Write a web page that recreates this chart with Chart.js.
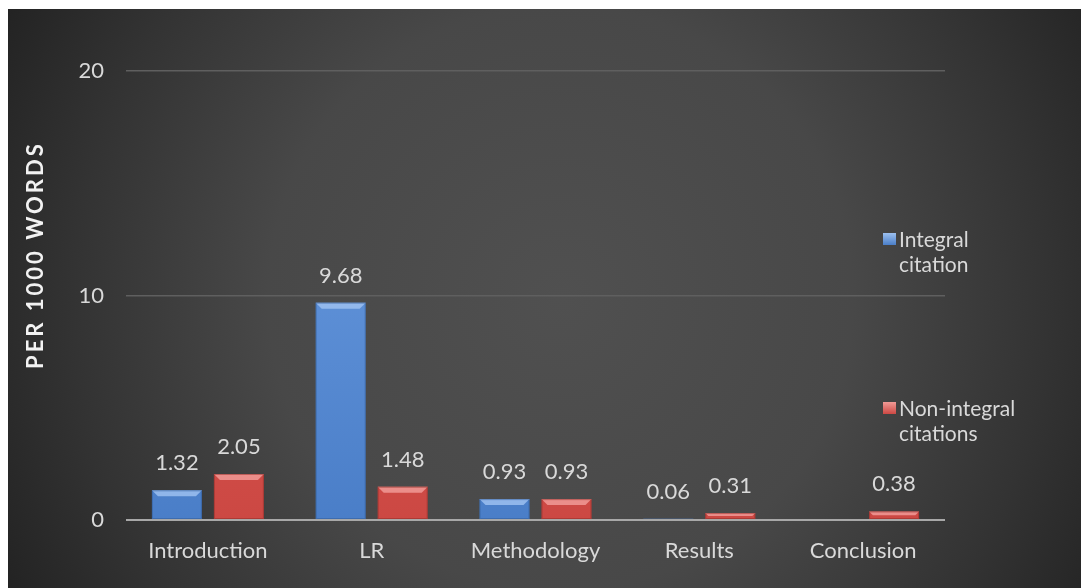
<!DOCTYPE html>
<html>
<head>
<meta charset="utf-8">
<script src="https://cdn.jsdelivr.net/npm/chart.js@4.4.1/dist/chart.umd.min.js"></script>
<style>
  html, body { margin: 0; padding: 0; background: #ffffff; }
  #wrap { position: absolute; left: 8px; top: 9px; width: 1073px; height: 579px; }
  canvas { display: block; }
</style>
</head>
<body>
<div id="wrap"><canvas id="c" width="1073" height="579"></canvas></div>
<script>
const categories = ["Introduction", "LR", "Methodology", "Results", "Conclusion"];
const integralValues = [1.32, 9.68, 0.93, 0.06, 0];
const nonIntegralValues = [2.05, 1.48, 0.93, 0.31, 0.38];
const seriesNames = [["Integral", "citation"], ["Non-integral", "citations"]];
const yTicks = [0, 10, 20];
const yTitle = "PER 1000 WORDS";

const FONT = "Lato, 'Open Sans', sans-serif";
const TEXT = "#d9d9d9";

const palette = [
  { top: "#6fa0e4", bottom: "#4a7ec8", bevel: "#9cc0f0", edge: "#2f5a96" },
  { top: "#e2615d", bottom: "#cc4843", bevel: "#f09a96", edge: "#8e2b28" }
];

function barGradient(ctx, idx) {
  const chart = ctx.chart;
  const area = chart.chartArea;
  if (!area) return palette[idx].bottom;
  const g = chart.ctx.createLinearGradient(0, area.top, 0, area.bottom);
  g.addColorStop(0, palette[idx].top);
  g.addColorStop(1, palette[idx].bottom);
  return g;
}

const bgPlugin = {
  id: "bg",
  beforeDraw(chart) {
    const { ctx, width, height } = chart;
    const cx = width * 0.515, cy = height * 0.5;
    const g = ctx.createRadialGradient(cx, cy, 0, cx, cy, 650);
    g.addColorStop(0, "#505050");
    g.addColorStop(0.45, "#484848");
    g.addColorStop(0.75, "#333333");
    g.addColorStop(1, "#202020");
    ctx.save();
    ctx.fillStyle = g;
    ctx.fillRect(0, 0, width, height);
    ctx.restore();
  }
};

const bevelPlugin = {
  id: "bevel",
  afterDatasetsDraw(chart) {
    const ctx = chart.ctx;
    chart.data.datasets.forEach((ds, di) => {
      const meta = chart.getDatasetMeta(di);
      meta.data.forEach((bar) => {
        const h = bar.base - bar.y;
        if (h < 4) return;
        const w = bar.width;
        const l = bar.x - w / 2, r = bar.x + w / 2;
        const b = Math.min(6, h / 2, w / 2);
        ctx.save();
        ctx.fillStyle = palette[di].bevel;
        ctx.globalAlpha = 0.85;
        ctx.beginPath();
        ctx.moveTo(l, bar.y);
        ctx.lineTo(r, bar.y);
        ctx.lineTo(r - b, bar.y + b);
        ctx.lineTo(l + b, bar.y + b);
        ctx.closePath();
        ctx.fill();
        ctx.globalAlpha = 0.5;
        ctx.strokeStyle = palette[di].edge;
        ctx.lineWidth = 1;
        ctx.strokeRect(l + 0.5, bar.y + 0.5, w - 1, h - 1);
        ctx.restore();
      });
    });
  }
};

const labelPlugin = {
  id: "valueLabels",
  afterDatasetsDraw(chart) {
    const ctx = chart.ctx;
    ctx.save();
    ctx.font = "22px " + FONT;
    ctx.fillStyle = TEXT;
    ctx.textAlign = "center";
    ctx.textBaseline = "alphabetic";
    chart.data.datasets.forEach((ds, di) => {
      const meta = chart.getDatasetMeta(di);
      meta.data.forEach((bar, i) => {
        const v = ds.data[i];
        if (!v) return;
        ctx.fillText(v.toFixed(2), bar.x, bar.y - 20);
      });
    });
    ctx.restore();
  }
};

const legendTitlePlugin = {
  id: "legendAndTitle",
  afterDraw(chart) {
    const ctx = chart.ctx;
    const area = chart.chartArea;
    ctx.save();
    const legendX = area.right - 62;
    const rows = [224, 393];
    ctx.font = "21px " + FONT;
    ctx.textAlign = "left";
    ctx.textBaseline = "alphabetic";
    seriesNames.forEach((lines, i) => {
      const y = rows[i];
      const g = ctx.createLinearGradient(0, y, 0, y + 12);
      g.addColorStop(0, palette[i].bevel);
      g.addColorStop(1, palette[i].bottom);
      ctx.fillStyle = g;
      ctx.fillRect(legendX, y, 13, 12);
      ctx.fillStyle = TEXT;
      lines.forEach((t, k) => ctx.fillText(t, legendX + 16, y + 14 + k * 25));
    });
    ctx.translate(28, area.top + (area.bottom - area.top) * 0.41);
    ctx.rotate(-Math.PI / 2);
    ctx.font = "bold 22px " + FONT;
    ctx.fillStyle = "#f2f2f2";
    ctx.textAlign = "center";
    ctx.textBaseline = "middle";
    if ("letterSpacing" in ctx) ctx.letterSpacing = "3px";
    ctx.fillText(yTitle, 0, 0);
    ctx.restore();
  }
};

new Chart(document.getElementById("c"), {
  type: "bar",
  data: {
    labels: categories,
    datasets: [
      { label: seriesNames[0].join(" "), data: integralValues,
        backgroundColor: (c) => barGradient(c, 0), borderWidth: 0 },
      { label: seriesNames[1].join(" "), data: nonIntegralValues,
        backgroundColor: (c) => barGradient(c, 1), borderWidth: 0 }
    ]
  },
  options: {
    responsive: false,
    devicePixelRatio: 1,
    animation: false,
    layout: { padding: { top: 62, right: 136, left: 0, bottom: 0 } },
    datasets: { bar: { categoryPercentage: 0.757, barPercentage: 0.806 } },
    plugins: { legend: { display: false }, tooltip: { enabled: false } },
    scales: {
      x: {
        grid: { display: false, drawTicks: false },
        border: { display: false },
        ticks: { color: TEXT, font: { family: FONT, size: 22 }, padding: 18 },
        afterFit(s) { s.height = 68; }
      },
      y: {
        min: 0, max: 20,
        afterBuildTicks(s) { s.ticks = yTicks.map(v => ({ value: v })); },
        grid: {
          drawTicks: false,
          color: (c) => c.tick && c.tick.value === 0 ? "#a8a8a8" : "#5f5f5f",
          lineWidth: (c) => c.tick && c.tick.value === 0 ? 2 : 1.5
        },
        border: { display: false },
        ticks: { color: TEXT, font: { family: FONT, size: 22 }, padding: 22 },
        afterFit(s) { s.width = 118; }
      }
    }
  },
  plugins: [bgPlugin, bevelPlugin, labelPlugin, legendTitlePlugin]
});
</script>
</body>
</html>
